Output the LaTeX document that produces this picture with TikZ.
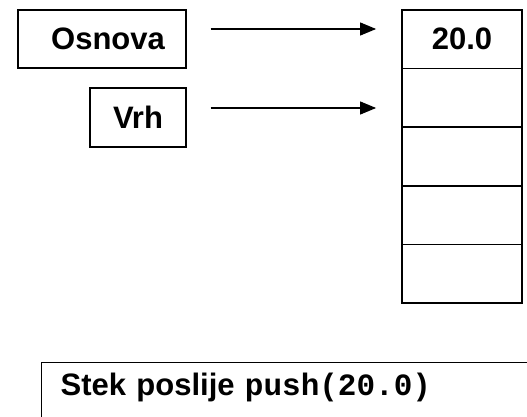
\documentclass[tikz,border=0pt]{standalone}
\usepackage{fontspec}
\setmainfont{Liberation Sans}
\setmonofont{Liberation Mono}
\usetikzlibrary{arrows.meta}

\tikzset{
    labelbox/.style={draw, line width=1.3pt, font=\fontsize{31pt}{37pt}\selectfont\bfseries},
    cell/.style={draw, line width=1.8pt, minimum width=120pt, minimum height=58.6pt, inner sep=0pt,
        font=\fontsize{31pt}{37pt}\selectfont\bfseries},
    ptr/.style={line width=1.1pt, -{Triangle[length=16pt,width=13pt]}, shorten <=24pt, shorten >=25pt}
}

\begin{document}
\begin{tikzpicture}[x=1pt, y=-1pt]
    \path[use as bounding box] (0,0) rectangle (527,417);
    \clip (0,0) rectangle (527,417);

    % Pointers
    \node[labelbox, minimum width=168pt, minimum height=58pt, inner sep=0pt] (osnova) at (102,39) {\hspace{12pt}Osnova};
    \node[labelbox, minimum width=96pt, minimum height=59pt, inner sep=0pt] (vrh) at (138,117.5) {Vrh};

    % Stack cells
    \foreach \i/\val in {1/20.0, 2/, 3/, 4/, 5/} {
        \node[cell] (c\i) at (462, {10 + 58.6*(\i-1) + 29.3}) {\val};
    }

    % Arrows
    \draw[ptr] ([yshift=10pt]osnova.east) -- ([yshift=10pt]osnova.east -| c1.west);
    \draw[ptr] ([yshift=9.5pt]vrh.east) -- ([yshift=9.5pt]vrh.east -| c2.west);

    % Caption
    \node[draw, line width=1.3pt, anchor=north west, align=left, text width=480pt,
        inner xsep=19pt, inner ysep=10pt, text height=23pt, text depth=30pt,
        font=\fontsize{31pt}{37pt}\selectfont\bfseries] (caption) at (41,362)
        {Stek poslije \texttt{push(20.0)}};
\end{tikzpicture}
\end{document}
